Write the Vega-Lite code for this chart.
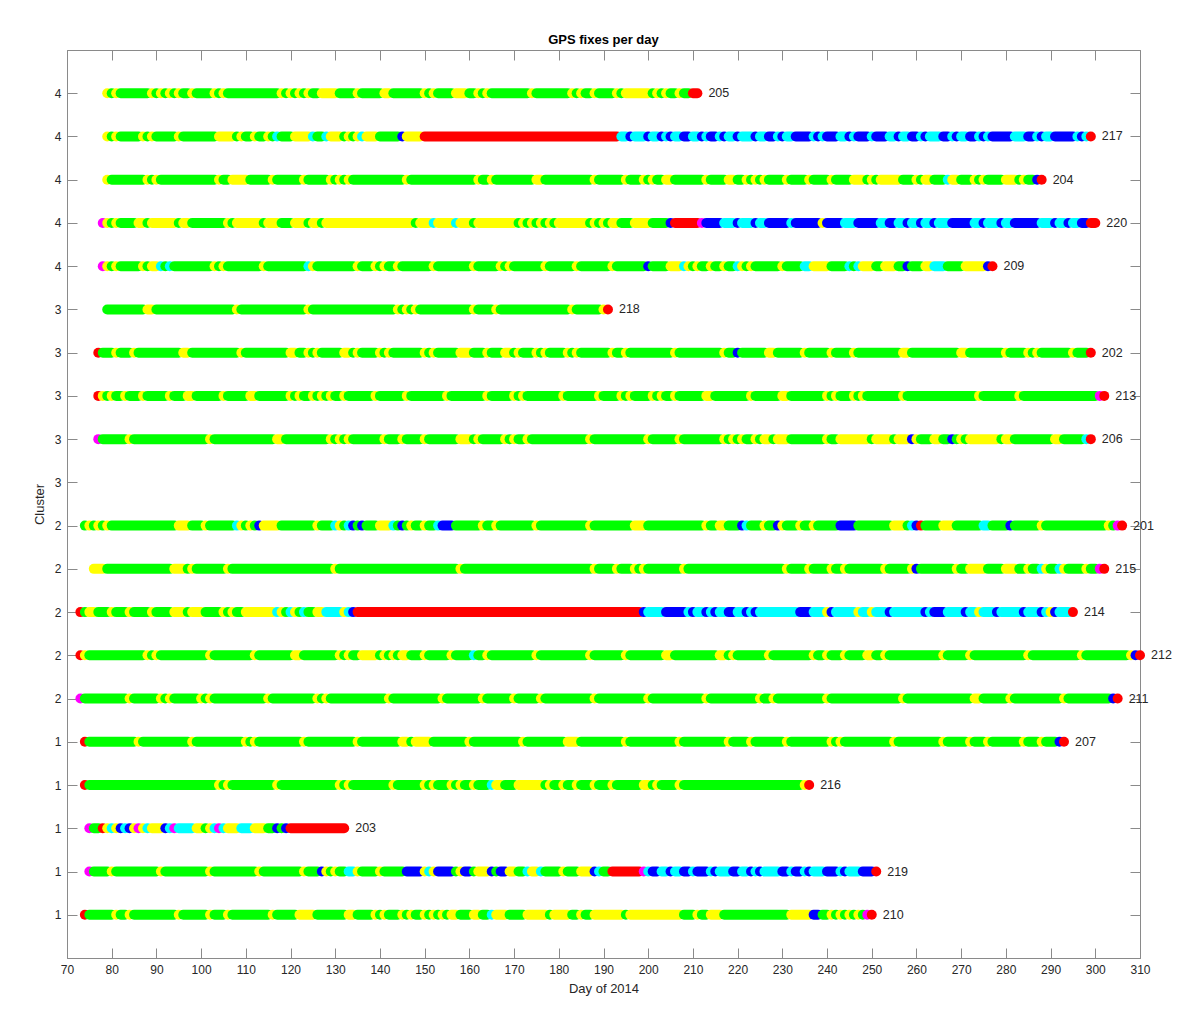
{"$schema":"https://vega.github.io/schema/vega-lite/v6.json","width":1073,"height":908,"autosize":"none","padding":{"left":67,"top":50,"right":46,"bottom":57},"background":"white",
"title":{"text":"GPS fixes per day","fontSize":13,"fontWeight":"bold","font":"Liberation Sans","color":"#000000","offset":3},
"config":{"view":{"stroke":"#8a8a8a","strokeWidth":1},"font":"Liberation Sans"},
"datasets":{"runs":[
{"r":20,"s":79,"e":79,"c":"Y"},{"r":20,"s":80,"e":80,"c":"G"},{"r":20,"s":81,"e":81,"c":"Y"},{"r":20,"s":82,"e":88,"c":"G"},{"r":20,"s":89,"e":89,"c":"Y"},{"r":20,"s":90,"e":90,"c":"G"},{"r":20,"s":91,"e":91,"c":"Y"},{"r":20,"s":92,"e":92,"c":"G"},{"r":20,"s":93,"e":93,"c":"Y"},{"r":20,"s":94,"e":94,"c":"G"},{"r":20,"s":95,"e":95,"c":"Y"},{"r":20,"s":96,"e":97,"c":"G"},{"r":20,"s":98,"e":98,"c":"Y"},{"r":20,"s":99,"e":102,"c":"G"},{"r":20,"s":103,"e":103,"c":"Y"},{"r":20,"s":104,"e":104,"c":"G"},{"r":20,"s":105,"e":105,"c":"Y"},{"r":20,"s":106,"e":117,"c":"G"},{"r":20,"s":118,"e":118,"c":"Y"},{"r":20,"s":119,"e":119,"c":"G"},{"r":20,"s":120,"e":120,"c":"Y"},{"r":20,"s":121,"e":121,"c":"G"},{"r":20,"s":122,"e":122,"c":"Y"},{"r":20,"s":123,"e":123,"c":"G"},{"r":20,"s":124,"e":124,"c":"Y"},{"r":20,"s":125,"e":126,"c":"G"},{"r":20,"s":127,"e":130,"c":"Y"},{"r":20,"s":131,"e":134,"c":"G"},{"r":20,"s":135,"e":135,"c":"Y"},{"r":20,"s":136,"e":140,"c":"G"},{"r":20,"s":141,"e":142,"c":"Y"},{"r":20,"s":143,"e":149,"c":"G"},{"r":20,"s":150,"e":150,"c":"Y"},{"r":20,"s":151,"e":151,"c":"G"},{"r":20,"s":152,"e":152,"c":"Y"},{"r":20,"s":153,"e":156,"c":"G"},{"r":20,"s":157,"e":159,"c":"Y"},{"r":20,"s":160,"e":161,"c":"G"},{"r":20,"s":162,"e":162,"c":"Y"},{"r":20,"s":163,"e":163,"c":"G"},{"r":20,"s":164,"e":164,"c":"Y"},{"r":20,"s":165,"e":173,"c":"G"},{"r":20,"s":174,"e":174,"c":"Y"},{"r":20,"s":175,"e":182,"c":"G"},{"r":20,"s":183,"e":183,"c":"Y"},{"r":20,"s":184,"e":184,"c":"G"},{"r":20,"s":185,"e":185,"c":"Y"},{"r":20,"s":186,"e":187,"c":"G"},{"r":20,"s":188,"e":188,"c":"Y"},{"r":20,"s":189,"e":192,"c":"G"},{"r":20,"s":193,"e":193,"c":"Y"},{"r":20,"s":194,"e":194,"c":"G"},{"r":20,"s":195,"e":200,"c":"Y"},{"r":20,"s":201,"e":201,"c":"G"},{"r":20,"s":202,"e":202,"c":"Y"},{"r":20,"s":203,"e":203,"c":"G"},{"r":20,"s":204,"e":204,"c":"Y"},{"r":20,"s":205,"e":206,"c":"G"},{"r":20,"s":207,"e":207,"c":"Y"},{"r":20,"s":208,"e":209,"c":"G"},{"r":20,"s":210,"e":211,"c":"R"},
{"r":19,"s":79,"e":79,"c":"Y"},{"r":19,"s":80,"e":80,"c":"G"},{"r":19,"s":81,"e":81,"c":"Y"},{"r":19,"s":82,"e":86,"c":"G"},{"r":19,"s":87,"e":87,"c":"Y"},{"r":19,"s":88,"e":88,"c":"G"},{"r":19,"s":89,"e":89,"c":"Y"},{"r":19,"s":90,"e":94,"c":"G"},{"r":19,"s":95,"e":95,"c":"Y"},{"r":19,"s":96,"e":103,"c":"G"},{"r":19,"s":104,"e":107,"c":"Y"},{"r":19,"s":108,"e":108,"c":"G"},{"r":19,"s":109,"e":109,"c":"Y"},{"r":19,"s":110,"e":111,"c":"G"},{"r":19,"s":112,"e":112,"c":"Y"},{"r":19,"s":113,"e":114,"c":"G"},{"r":19,"s":115,"e":115,"c":"Y"},{"r":19,"s":116,"e":116,"c":"G"},{"r":19,"s":117,"e":117,"c":"C"},{"r":19,"s":118,"e":120,"c":"G"},{"r":19,"s":121,"e":124,"c":"Y"},{"r":19,"s":125,"e":125,"c":"C"},{"r":19,"s":126,"e":127,"c":"G"},{"r":19,"s":128,"e":128,"c":"C"},{"r":19,"s":129,"e":131,"c":"Y"},{"r":19,"s":132,"e":132,"c":"G"},{"r":19,"s":133,"e":133,"c":"Y"},{"r":19,"s":134,"e":134,"c":"G"},{"r":19,"s":135,"e":135,"c":"Y"},{"r":19,"s":136,"e":136,"c":"C"},{"r":19,"s":137,"e":139,"c":"Y"},{"r":19,"s":140,"e":144,"c":"G"},{"r":19,"s":145,"e":145,"c":"B"},{"r":19,"s":146,"e":149,"c":"Y"},{"r":19,"s":150,"e":193,"c":"R"},{"r":19,"s":194,"e":195,"c":"C"},{"r":19,"s":196,"e":196,"c":"B"},{"r":19,"s":197,"e":199,"c":"C"},{"r":19,"s":200,"e":200,"c":"B"},{"r":19,"s":201,"e":202,"c":"C"},{"r":19,"s":203,"e":203,"c":"B"},{"r":19,"s":204,"e":204,"c":"C"},{"r":19,"s":205,"e":205,"c":"B"},{"r":19,"s":206,"e":207,"c":"C"},{"r":19,"s":208,"e":209,"c":"B"},{"r":19,"s":210,"e":211,"c":"C"},{"r":19,"s":212,"e":212,"c":"B"},{"r":19,"s":213,"e":213,"c":"C"},{"r":19,"s":214,"e":215,"c":"B"},{"r":19,"s":216,"e":216,"c":"C"},{"r":19,"s":217,"e":217,"c":"B"},{"r":19,"s":218,"e":219,"c":"C"},{"r":19,"s":220,"e":220,"c":"B"},{"r":19,"s":221,"e":223,"c":"C"},{"r":19,"s":224,"e":224,"c":"B"},{"r":19,"s":225,"e":226,"c":"C"},{"r":19,"s":227,"e":228,"c":"B"},{"r":19,"s":229,"e":229,"c":"C"},{"r":19,"s":230,"e":230,"c":"B"},{"r":19,"s":231,"e":232,"c":"C"},{"r":19,"s":233,"e":236,"c":"B"},{"r":19,"s":237,"e":237,"c":"C"},{"r":19,"s":238,"e":238,"c":"B"},{"r":19,"s":239,"e":239,"c":"C"},{"r":19,"s":240,"e":242,"c":"B"},{"r":19,"s":243,"e":244,"c":"C"},{"r":19,"s":245,"e":245,"c":"B"},{"r":19,"s":246,"e":246,"c":"C"},{"r":19,"s":247,"e":249,"c":"B"},{"r":19,"s":250,"e":250,"c":"C"},{"r":19,"s":251,"e":253,"c":"B"},{"r":19,"s":254,"e":255,"c":"C"},{"r":19,"s":256,"e":256,"c":"B"},{"r":19,"s":257,"e":258,"c":"C"},{"r":19,"s":259,"e":260,"c":"B"},{"r":19,"s":261,"e":261,"c":"C"},{"r":19,"s":262,"e":262,"c":"B"},{"r":19,"s":263,"e":265,"c":"C"},{"r":19,"s":266,"e":267,"c":"B"},{"r":19,"s":268,"e":268,"c":"C"},{"r":19,"s":269,"e":269,"c":"B"},{"r":19,"s":270,"e":271,"c":"C"},{"r":19,"s":272,"e":273,"c":"B"},{"r":19,"s":274,"e":274,"c":"C"},{"r":19,"s":275,"e":275,"c":"B"},{"r":19,"s":276,"e":276,"c":"C"},{"r":19,"s":277,"e":281,"c":"B"},{"r":19,"s":282,"e":284,"c":"C"},{"r":19,"s":285,"e":286,"c":"B"},{"r":19,"s":287,"e":287,"c":"C"},{"r":19,"s":288,"e":288,"c":"B"},{"r":19,"s":289,"e":290,"c":"C"},{"r":19,"s":291,"e":295,"c":"B"},{"r":19,"s":296,"e":296,"c":"C"},{"r":19,"s":297,"e":297,"c":"B"},{"r":19,"s":298,"e":298,"c":"C"},{"r":19,"s":299,"e":299,"c":"R"},
{"r":18,"s":79,"e":79,"c":"Y"},{"r":18,"s":80,"e":87,"c":"G"},{"r":18,"s":88,"e":88,"c":"Y"},{"r":18,"s":89,"e":89,"c":"G"},{"r":18,"s":90,"e":90,"c":"Y"},{"r":18,"s":91,"e":103,"c":"G"},{"r":18,"s":104,"e":104,"c":"Y"},{"r":18,"s":105,"e":106,"c":"G"},{"r":18,"s":107,"e":110,"c":"Y"},{"r":18,"s":111,"e":115,"c":"G"},{"r":18,"s":116,"e":116,"c":"Y"},{"r":18,"s":117,"e":122,"c":"G"},{"r":18,"s":123,"e":123,"c":"Y"},{"r":18,"s":124,"e":128,"c":"G"},{"r":18,"s":129,"e":129,"c":"Y"},{"r":18,"s":130,"e":130,"c":"G"},{"r":18,"s":131,"e":131,"c":"Y"},{"r":18,"s":132,"e":132,"c":"G"},{"r":18,"s":133,"e":133,"c":"Y"},{"r":18,"s":134,"e":145,"c":"G"},{"r":18,"s":146,"e":146,"c":"Y"},{"r":18,"s":147,"e":161,"c":"G"},{"r":18,"s":162,"e":162,"c":"Y"},{"r":18,"s":163,"e":164,"c":"G"},{"r":18,"s":165,"e":165,"c":"Y"},{"r":18,"s":166,"e":174,"c":"G"},{"r":18,"s":175,"e":176,"c":"Y"},{"r":18,"s":177,"e":187,"c":"G"},{"r":18,"s":188,"e":188,"c":"Y"},{"r":18,"s":189,"e":194,"c":"G"},{"r":18,"s":195,"e":195,"c":"Y"},{"r":18,"s":196,"e":198,"c":"G"},{"r":18,"s":199,"e":199,"c":"Y"},{"r":18,"s":200,"e":200,"c":"G"},{"r":18,"s":201,"e":201,"c":"Y"},{"r":18,"s":202,"e":203,"c":"G"},{"r":18,"s":204,"e":205,"c":"Y"},{"r":18,"s":206,"e":212,"c":"G"},{"r":18,"s":213,"e":213,"c":"Y"},{"r":18,"s":214,"e":217,"c":"G"},{"r":18,"s":218,"e":219,"c":"Y"},{"r":18,"s":220,"e":221,"c":"G"},{"r":18,"s":222,"e":222,"c":"Y"},{"r":18,"s":223,"e":223,"c":"G"},{"r":18,"s":224,"e":224,"c":"Y"},{"r":18,"s":225,"e":225,"c":"G"},{"r":18,"s":226,"e":226,"c":"Y"},{"r":18,"s":227,"e":230,"c":"G"},{"r":18,"s":231,"e":231,"c":"Y"},{"r":18,"s":232,"e":235,"c":"G"},{"r":18,"s":236,"e":236,"c":"Y"},{"r":18,"s":237,"e":240,"c":"G"},{"r":18,"s":241,"e":241,"c":"Y"},{"r":18,"s":242,"e":245,"c":"G"},{"r":18,"s":246,"e":248,"c":"Y"},{"r":18,"s":249,"e":249,"c":"G"},{"r":18,"s":250,"e":250,"c":"Y"},{"r":18,"s":251,"e":251,"c":"G"},{"r":18,"s":252,"e":256,"c":"Y"},{"r":18,"s":257,"e":259,"c":"G"},{"r":18,"s":260,"e":260,"c":"Y"},{"r":18,"s":261,"e":261,"c":"G"},{"r":18,"s":262,"e":263,"c":"Y"},{"r":18,"s":264,"e":266,"c":"G"},{"r":18,"s":267,"e":267,"c":"C"},{"r":18,"s":268,"e":269,"c":"Y"},{"r":18,"s":270,"e":272,"c":"G"},{"r":18,"s":273,"e":273,"c":"Y"},{"r":18,"s":274,"e":274,"c":"G"},{"r":18,"s":275,"e":275,"c":"Y"},{"r":18,"s":276,"e":279,"c":"G"},{"r":18,"s":280,"e":282,"c":"Y"},{"r":18,"s":283,"e":283,"c":"G"},{"r":18,"s":284,"e":284,"c":"Y"},{"r":18,"s":285,"e":286,"c":"G"},{"r":18,"s":287,"e":287,"c":"B"},{"r":18,"s":288,"e":288,"c":"R"},
{"r":17,"s":78,"e":78,"c":"M"},{"r":17,"s":79,"e":79,"c":"Y"},{"r":17,"s":80,"e":80,"c":"G"},{"r":17,"s":81,"e":81,"c":"Y"},{"r":17,"s":82,"e":85,"c":"G"},{"r":17,"s":86,"e":87,"c":"Y"},{"r":17,"s":88,"e":88,"c":"G"},{"r":17,"s":89,"e":94,"c":"Y"},{"r":17,"s":95,"e":95,"c":"G"},{"r":17,"s":96,"e":97,"c":"Y"},{"r":17,"s":98,"e":105,"c":"G"},{"r":17,"s":106,"e":106,"c":"Y"},{"r":17,"s":107,"e":107,"c":"G"},{"r":17,"s":108,"e":113,"c":"Y"},{"r":17,"s":114,"e":114,"c":"G"},{"r":17,"s":115,"e":117,"c":"Y"},{"r":17,"s":118,"e":120,"c":"G"},{"r":17,"s":121,"e":123,"c":"Y"},{"r":17,"s":124,"e":124,"c":"G"},{"r":17,"s":125,"e":126,"c":"Y"},{"r":17,"s":127,"e":127,"c":"G"},{"r":17,"s":128,"e":147,"c":"Y"},{"r":17,"s":148,"e":148,"c":"G"},{"r":17,"s":149,"e":151,"c":"Y"},{"r":17,"s":152,"e":152,"c":"C"},{"r":17,"s":153,"e":156,"c":"Y"},{"r":17,"s":157,"e":157,"c":"C"},{"r":17,"s":158,"e":160,"c":"Y"},{"r":17,"s":161,"e":161,"c":"G"},{"r":17,"s":162,"e":170,"c":"Y"},{"r":17,"s":171,"e":171,"c":"G"},{"r":17,"s":172,"e":172,"c":"Y"},{"r":17,"s":173,"e":173,"c":"G"},{"r":17,"s":174,"e":174,"c":"Y"},{"r":17,"s":175,"e":175,"c":"G"},{"r":17,"s":176,"e":176,"c":"Y"},{"r":17,"s":177,"e":177,"c":"G"},{"r":17,"s":178,"e":178,"c":"Y"},{"r":17,"s":179,"e":179,"c":"G"},{"r":17,"s":180,"e":186,"c":"Y"},{"r":17,"s":187,"e":187,"c":"G"},{"r":17,"s":188,"e":188,"c":"Y"},{"r":17,"s":189,"e":189,"c":"G"},{"r":17,"s":190,"e":190,"c":"Y"},{"r":17,"s":191,"e":191,"c":"G"},{"r":17,"s":192,"e":193,"c":"Y"},{"r":17,"s":194,"e":196,"c":"G"},{"r":17,"s":197,"e":200,"c":"Y"},{"r":17,"s":201,"e":204,"c":"G"},{"r":17,"s":205,"e":205,"c":"B"},{"r":17,"s":206,"e":211,"c":"R"},{"r":17,"s":212,"e":212,"c":"M"},{"r":17,"s":213,"e":216,"c":"B"},{"r":17,"s":217,"e":219,"c":"C"},{"r":17,"s":220,"e":220,"c":"B"},{"r":17,"s":221,"e":223,"c":"C"},{"r":17,"s":224,"e":224,"c":"B"},{"r":17,"s":225,"e":226,"c":"C"},{"r":17,"s":227,"e":231,"c":"B"},{"r":17,"s":232,"e":232,"c":"C"},{"r":17,"s":233,"e":238,"c":"B"},{"r":17,"s":239,"e":239,"c":"Y"},{"r":17,"s":240,"e":243,"c":"B"},{"r":17,"s":244,"e":246,"c":"C"},{"r":17,"s":247,"e":251,"c":"B"},{"r":17,"s":252,"e":253,"c":"C"},{"r":17,"s":254,"e":255,"c":"B"},{"r":17,"s":256,"e":257,"c":"C"},{"r":17,"s":258,"e":258,"c":"B"},{"r":17,"s":259,"e":260,"c":"C"},{"r":17,"s":261,"e":261,"c":"B"},{"r":17,"s":262,"e":263,"c":"C"},{"r":17,"s":264,"e":264,"c":"B"},{"r":17,"s":265,"e":267,"c":"C"},{"r":17,"s":268,"e":272,"c":"B"},{"r":17,"s":273,"e":274,"c":"C"},{"r":17,"s":275,"e":275,"c":"B"},{"r":17,"s":276,"e":278,"c":"C"},{"r":17,"s":279,"e":279,"c":"B"},{"r":17,"s":280,"e":281,"c":"C"},{"r":17,"s":282,"e":287,"c":"B"},{"r":17,"s":288,"e":290,"c":"C"},{"r":17,"s":291,"e":291,"c":"B"},{"r":17,"s":292,"e":293,"c":"C"},{"r":17,"s":294,"e":294,"c":"B"},{"r":17,"s":295,"e":296,"c":"C"},{"r":17,"s":297,"e":298,"c":"B"},{"r":17,"s":299,"e":300,"c":"R"},
{"r":16,"s":78,"e":78,"c":"M"},{"r":16,"s":79,"e":79,"c":"Y"},{"r":16,"s":80,"e":80,"c":"G"},{"r":16,"s":81,"e":81,"c":"Y"},{"r":16,"s":82,"e":86,"c":"G"},{"r":16,"s":87,"e":87,"c":"Y"},{"r":16,"s":88,"e":88,"c":"G"},{"r":16,"s":89,"e":90,"c":"Y"},{"r":16,"s":91,"e":91,"c":"C"},{"r":16,"s":92,"e":92,"c":"G"},{"r":16,"s":93,"e":93,"c":"C"},{"r":16,"s":94,"e":102,"c":"G"},{"r":16,"s":103,"e":103,"c":"Y"},{"r":16,"s":104,"e":104,"c":"G"},{"r":16,"s":105,"e":105,"c":"Y"},{"r":16,"s":106,"e":113,"c":"G"},{"r":16,"s":114,"e":114,"c":"Y"},{"r":16,"s":115,"e":123,"c":"G"},{"r":16,"s":124,"e":124,"c":"C"},{"r":16,"s":125,"e":125,"c":"Y"},{"r":16,"s":126,"e":134,"c":"G"},{"r":16,"s":135,"e":135,"c":"Y"},{"r":16,"s":136,"e":138,"c":"G"},{"r":16,"s":139,"e":139,"c":"Y"},{"r":16,"s":140,"e":140,"c":"G"},{"r":16,"s":141,"e":141,"c":"Y"},{"r":16,"s":142,"e":143,"c":"G"},{"r":16,"s":144,"e":144,"c":"Y"},{"r":16,"s":145,"e":151,"c":"G"},{"r":16,"s":152,"e":152,"c":"Y"},{"r":16,"s":153,"e":160,"c":"G"},{"r":16,"s":161,"e":161,"c":"Y"},{"r":16,"s":162,"e":166,"c":"G"},{"r":16,"s":167,"e":167,"c":"Y"},{"r":16,"s":168,"e":168,"c":"G"},{"r":16,"s":169,"e":169,"c":"Y"},{"r":16,"s":170,"e":176,"c":"G"},{"r":16,"s":177,"e":177,"c":"Y"},{"r":16,"s":178,"e":183,"c":"G"},{"r":16,"s":184,"e":184,"c":"Y"},{"r":16,"s":185,"e":191,"c":"G"},{"r":16,"s":192,"e":192,"c":"Y"},{"r":16,"s":193,"e":199,"c":"G"},{"r":16,"s":200,"e":200,"c":"B"},{"r":16,"s":201,"e":204,"c":"G"},{"r":16,"s":205,"e":207,"c":"Y"},{"r":16,"s":208,"e":208,"c":"C"},{"r":16,"s":209,"e":209,"c":"Y"},{"r":16,"s":210,"e":210,"c":"G"},{"r":16,"s":211,"e":211,"c":"Y"},{"r":16,"s":212,"e":213,"c":"G"},{"r":16,"s":214,"e":214,"c":"Y"},{"r":16,"s":215,"e":216,"c":"G"},{"r":16,"s":217,"e":217,"c":"Y"},{"r":16,"s":218,"e":219,"c":"G"},{"r":16,"s":220,"e":220,"c":"C"},{"r":16,"s":221,"e":221,"c":"Y"},{"r":16,"s":222,"e":222,"c":"G"},{"r":16,"s":223,"e":223,"c":"Y"},{"r":16,"s":224,"e":229,"c":"G"},{"r":16,"s":230,"e":230,"c":"Y"},{"r":16,"s":231,"e":234,"c":"G"},{"r":16,"s":235,"e":236,"c":"C"},{"r":16,"s":237,"e":240,"c":"Y"},{"r":16,"s":241,"e":244,"c":"G"},{"r":16,"s":245,"e":245,"c":"C"},{"r":16,"s":246,"e":246,"c":"G"},{"r":16,"s":247,"e":247,"c":"C"},{"r":16,"s":248,"e":250,"c":"Y"},{"r":16,"s":251,"e":252,"c":"G"},{"r":16,"s":253,"e":255,"c":"Y"},{"r":16,"s":256,"e":257,"c":"G"},{"r":16,"s":258,"e":258,"c":"B"},{"r":16,"s":259,"e":261,"c":"G"},{"r":16,"s":262,"e":263,"c":"Y"},{"r":16,"s":264,"e":266,"c":"C"},{"r":16,"s":267,"e":270,"c":"G"},{"r":16,"s":271,"e":275,"c":"Y"},{"r":16,"s":276,"e":276,"c":"B"},{"r":16,"s":277,"e":277,"c":"R"},
{"r":15,"s":79,"e":87,"c":"G"},{"r":15,"s":88,"e":89,"c":"Y"},{"r":15,"s":90,"e":107,"c":"G"},{"r":15,"s":108,"e":108,"c":"Y"},{"r":15,"s":109,"e":123,"c":"G"},{"r":15,"s":124,"e":124,"c":"Y"},{"r":15,"s":125,"e":143,"c":"G"},{"r":15,"s":144,"e":144,"c":"Y"},{"r":15,"s":145,"e":145,"c":"G"},{"r":15,"s":146,"e":146,"c":"Y"},{"r":15,"s":147,"e":147,"c":"G"},{"r":15,"s":148,"e":148,"c":"Y"},{"r":15,"s":149,"e":160,"c":"G"},{"r":15,"s":161,"e":161,"c":"Y"},{"r":15,"s":162,"e":165,"c":"G"},{"r":15,"s":166,"e":166,"c":"Y"},{"r":15,"s":167,"e":182,"c":"G"},{"r":15,"s":183,"e":183,"c":"Y"},{"r":15,"s":184,"e":189,"c":"G"},{"r":15,"s":190,"e":190,"c":"Y"},{"r":15,"s":191,"e":191,"c":"R"},
{"r":14,"s":77,"e":77,"c":"R"},{"r":14,"s":78,"e":80,"c":"G"},{"r":14,"s":81,"e":81,"c":"Y"},{"r":14,"s":82,"e":84,"c":"G"},{"r":14,"s":85,"e":85,"c":"Y"},{"r":14,"s":86,"e":95,"c":"G"},{"r":14,"s":96,"e":97,"c":"Y"},{"r":14,"s":98,"e":108,"c":"G"},{"r":14,"s":109,"e":109,"c":"Y"},{"r":14,"s":110,"e":119,"c":"G"},{"r":14,"s":120,"e":121,"c":"Y"},{"r":14,"s":122,"e":123,"c":"G"},{"r":14,"s":124,"e":124,"c":"Y"},{"r":14,"s":125,"e":125,"c":"G"},{"r":14,"s":126,"e":126,"c":"Y"},{"r":14,"s":127,"e":131,"c":"G"},{"r":14,"s":132,"e":133,"c":"Y"},{"r":14,"s":134,"e":134,"c":"G"},{"r":14,"s":135,"e":135,"c":"Y"},{"r":14,"s":136,"e":139,"c":"G"},{"r":14,"s":140,"e":140,"c":"Y"},{"r":14,"s":141,"e":141,"c":"G"},{"r":14,"s":142,"e":142,"c":"Y"},{"r":14,"s":143,"e":149,"c":"G"},{"r":14,"s":150,"e":150,"c":"Y"},{"r":14,"s":151,"e":151,"c":"G"},{"r":14,"s":152,"e":152,"c":"Y"},{"r":14,"s":153,"e":157,"c":"G"},{"r":14,"s":158,"e":160,"c":"Y"},{"r":14,"s":161,"e":163,"c":"G"},{"r":14,"s":164,"e":164,"c":"Y"},{"r":14,"s":165,"e":167,"c":"G"},{"r":14,"s":168,"e":169,"c":"Y"},{"r":14,"s":170,"e":170,"c":"G"},{"r":14,"s":171,"e":171,"c":"Y"},{"r":14,"s":172,"e":174,"c":"G"},{"r":14,"s":175,"e":175,"c":"Y"},{"r":14,"s":176,"e":176,"c":"G"},{"r":14,"s":177,"e":177,"c":"Y"},{"r":14,"s":178,"e":181,"c":"G"},{"r":14,"s":182,"e":182,"c":"Y"},{"r":14,"s":183,"e":183,"c":"G"},{"r":14,"s":184,"e":184,"c":"Y"},{"r":14,"s":185,"e":191,"c":"G"},{"r":14,"s":192,"e":192,"c":"Y"},{"r":14,"s":193,"e":194,"c":"G"},{"r":14,"s":195,"e":195,"c":"Y"},{"r":14,"s":196,"e":205,"c":"G"},{"r":14,"s":206,"e":206,"c":"Y"},{"r":14,"s":207,"e":216,"c":"G"},{"r":14,"s":217,"e":217,"c":"Y"},{"r":14,"s":218,"e":219,"c":"G"},{"r":14,"s":220,"e":220,"c":"B"},{"r":14,"s":221,"e":226,"c":"G"},{"r":14,"s":227,"e":228,"c":"Y"},{"r":14,"s":229,"e":234,"c":"G"},{"r":14,"s":235,"e":235,"c":"Y"},{"r":14,"s":236,"e":240,"c":"G"},{"r":14,"s":241,"e":241,"c":"Y"},{"r":14,"s":242,"e":245,"c":"G"},{"r":14,"s":246,"e":246,"c":"Y"},{"r":14,"s":247,"e":256,"c":"G"},{"r":14,"s":257,"e":258,"c":"Y"},{"r":14,"s":259,"e":269,"c":"G"},{"r":14,"s":270,"e":271,"c":"Y"},{"r":14,"s":272,"e":279,"c":"G"},{"r":14,"s":280,"e":280,"c":"Y"},{"r":14,"s":281,"e":284,"c":"G"},{"r":14,"s":285,"e":285,"c":"Y"},{"r":14,"s":286,"e":286,"c":"G"},{"r":14,"s":287,"e":287,"c":"Y"},{"r":14,"s":288,"e":294,"c":"G"},{"r":14,"s":295,"e":295,"c":"Y"},{"r":14,"s":296,"e":298,"c":"G"},{"r":14,"s":299,"e":299,"c":"R"},
{"r":13,"s":77,"e":77,"c":"R"},{"r":13,"s":78,"e":78,"c":"Y"},{"r":13,"s":79,"e":79,"c":"G"},{"r":13,"s":80,"e":80,"c":"Y"},{"r":13,"s":81,"e":82,"c":"G"},{"r":13,"s":83,"e":83,"c":"Y"},{"r":13,"s":84,"e":86,"c":"G"},{"r":13,"s":87,"e":87,"c":"Y"},{"r":13,"s":88,"e":92,"c":"G"},{"r":13,"s":93,"e":93,"c":"Y"},{"r":13,"s":94,"e":96,"c":"G"},{"r":13,"s":97,"e":98,"c":"Y"},{"r":13,"s":99,"e":104,"c":"G"},{"r":13,"s":105,"e":105,"c":"Y"},{"r":13,"s":106,"e":110,"c":"G"},{"r":13,"s":111,"e":112,"c":"Y"},{"r":13,"s":113,"e":119,"c":"G"},{"r":13,"s":120,"e":120,"c":"Y"},{"r":13,"s":121,"e":121,"c":"G"},{"r":13,"s":122,"e":122,"c":"Y"},{"r":13,"s":123,"e":124,"c":"G"},{"r":13,"s":125,"e":125,"c":"Y"},{"r":13,"s":126,"e":126,"c":"G"},{"r":13,"s":127,"e":127,"c":"Y"},{"r":13,"s":128,"e":128,"c":"G"},{"r":13,"s":129,"e":129,"c":"Y"},{"r":13,"s":130,"e":131,"c":"G"},{"r":13,"s":132,"e":132,"c":"Y"},{"r":13,"s":133,"e":138,"c":"G"},{"r":13,"s":139,"e":139,"c":"Y"},{"r":13,"s":140,"e":145,"c":"G"},{"r":13,"s":146,"e":146,"c":"Y"},{"r":13,"s":147,"e":154,"c":"G"},{"r":13,"s":155,"e":155,"c":"Y"},{"r":13,"s":156,"e":163,"c":"G"},{"r":13,"s":164,"e":164,"c":"Y"},{"r":13,"s":165,"e":169,"c":"G"},{"r":13,"s":170,"e":170,"c":"Y"},{"r":13,"s":171,"e":171,"c":"G"},{"r":13,"s":172,"e":172,"c":"Y"},{"r":13,"s":173,"e":180,"c":"G"},{"r":13,"s":181,"e":181,"c":"Y"},{"r":13,"s":182,"e":188,"c":"G"},{"r":13,"s":189,"e":189,"c":"Y"},{"r":13,"s":190,"e":193,"c":"G"},{"r":13,"s":194,"e":194,"c":"Y"},{"r":13,"s":195,"e":195,"c":"G"},{"r":13,"s":196,"e":196,"c":"Y"},{"r":13,"s":197,"e":200,"c":"G"},{"r":13,"s":201,"e":201,"c":"Y"},{"r":13,"s":202,"e":202,"c":"G"},{"r":13,"s":203,"e":203,"c":"Y"},{"r":13,"s":204,"e":205,"c":"G"},{"r":13,"s":206,"e":206,"c":"Y"},{"r":13,"s":207,"e":212,"c":"G"},{"r":13,"s":213,"e":214,"c":"Y"},{"r":13,"s":215,"e":222,"c":"G"},{"r":13,"s":223,"e":223,"c":"Y"},{"r":13,"s":224,"e":229,"c":"G"},{"r":13,"s":230,"e":231,"c":"Y"},{"r":13,"s":232,"e":239,"c":"G"},{"r":13,"s":240,"e":240,"c":"Y"},{"r":13,"s":241,"e":241,"c":"G"},{"r":13,"s":242,"e":242,"c":"Y"},{"r":13,"s":243,"e":245,"c":"G"},{"r":13,"s":246,"e":246,"c":"Y"},{"r":13,"s":247,"e":247,"c":"G"},{"r":13,"s":248,"e":248,"c":"Y"},{"r":13,"s":249,"e":256,"c":"G"},{"r":13,"s":257,"e":257,"c":"Y"},{"r":13,"s":258,"e":273,"c":"G"},{"r":13,"s":274,"e":274,"c":"Y"},{"r":13,"s":275,"e":282,"c":"G"},{"r":13,"s":283,"e":283,"c":"Y"},{"r":13,"s":284,"e":300,"c":"G"},{"r":13,"s":301,"e":301,"c":"M"},{"r":13,"s":302,"e":302,"c":"R"},
{"r":12,"s":77,"e":77,"c":"M"},{"r":12,"s":78,"e":83,"c":"G"},{"r":12,"s":84,"e":84,"c":"Y"},{"r":12,"s":85,"e":101,"c":"G"},{"r":12,"s":102,"e":102,"c":"Y"},{"r":12,"s":103,"e":116,"c":"G"},{"r":12,"s":117,"e":118,"c":"Y"},{"r":12,"s":119,"e":128,"c":"G"},{"r":12,"s":129,"e":129,"c":"Y"},{"r":12,"s":130,"e":130,"c":"G"},{"r":12,"s":131,"e":131,"c":"Y"},{"r":12,"s":132,"e":132,"c":"G"},{"r":12,"s":133,"e":133,"c":"Y"},{"r":12,"s":134,"e":140,"c":"G"},{"r":12,"s":141,"e":141,"c":"Y"},{"r":12,"s":142,"e":144,"c":"G"},{"r":12,"s":145,"e":145,"c":"Y"},{"r":12,"s":146,"e":149,"c":"G"},{"r":12,"s":150,"e":150,"c":"Y"},{"r":12,"s":151,"e":157,"c":"G"},{"r":12,"s":158,"e":160,"c":"Y"},{"r":12,"s":161,"e":161,"c":"G"},{"r":12,"s":162,"e":162,"c":"Y"},{"r":12,"s":163,"e":167,"c":"G"},{"r":12,"s":168,"e":168,"c":"Y"},{"r":12,"s":169,"e":169,"c":"G"},{"r":12,"s":170,"e":170,"c":"Y"},{"r":12,"s":171,"e":172,"c":"G"},{"r":12,"s":173,"e":173,"c":"Y"},{"r":12,"s":174,"e":186,"c":"G"},{"r":12,"s":187,"e":187,"c":"Y"},{"r":12,"s":188,"e":199,"c":"G"},{"r":12,"s":200,"e":200,"c":"Y"},{"r":12,"s":201,"e":206,"c":"G"},{"r":12,"s":207,"e":207,"c":"Y"},{"r":12,"s":208,"e":216,"c":"G"},{"r":12,"s":217,"e":217,"c":"Y"},{"r":12,"s":218,"e":218,"c":"G"},{"r":12,"s":219,"e":219,"c":"Y"},{"r":12,"s":220,"e":220,"c":"G"},{"r":12,"s":221,"e":221,"c":"Y"},{"r":12,"s":222,"e":223,"c":"G"},{"r":12,"s":224,"e":224,"c":"Y"},{"r":12,"s":225,"e":225,"c":"G"},{"r":12,"s":226,"e":227,"c":"Y"},{"r":12,"s":228,"e":228,"c":"G"},{"r":12,"s":229,"e":231,"c":"Y"},{"r":12,"s":232,"e":239,"c":"G"},{"r":12,"s":240,"e":240,"c":"Y"},{"r":12,"s":241,"e":242,"c":"G"},{"r":12,"s":243,"e":249,"c":"Y"},{"r":12,"s":250,"e":250,"c":"G"},{"r":12,"s":251,"e":254,"c":"Y"},{"r":12,"s":255,"e":255,"c":"G"},{"r":12,"s":256,"e":258,"c":"Y"},{"r":12,"s":259,"e":259,"c":"B"},{"r":12,"s":260,"e":260,"c":"Y"},{"r":12,"s":261,"e":263,"c":"G"},{"r":12,"s":264,"e":265,"c":"Y"},{"r":12,"s":266,"e":267,"c":"G"},{"r":12,"s":268,"e":268,"c":"B"},{"r":12,"s":269,"e":269,"c":"G"},{"r":12,"s":270,"e":270,"c":"Y"},{"r":12,"s":271,"e":271,"c":"G"},{"r":12,"s":272,"e":278,"c":"Y"},{"r":12,"s":279,"e":279,"c":"G"},{"r":12,"s":280,"e":281,"c":"Y"},{"r":12,"s":282,"e":290,"c":"G"},{"r":12,"s":291,"e":292,"c":"Y"},{"r":12,"s":293,"e":297,"c":"G"},{"r":12,"s":298,"e":298,"c":"C"},{"r":12,"s":299,"e":299,"c":"R"},
{"r":10,"s":74,"e":74,"c":"G"},{"r":10,"s":75,"e":75,"c":"Y"},{"r":10,"s":76,"e":76,"c":"G"},{"r":10,"s":77,"e":77,"c":"Y"},{"r":10,"s":78,"e":78,"c":"G"},{"r":10,"s":79,"e":79,"c":"Y"},{"r":10,"s":80,"e":94,"c":"G"},{"r":10,"s":95,"e":97,"c":"Y"},{"r":10,"s":98,"e":100,"c":"G"},{"r":10,"s":101,"e":101,"c":"Y"},{"r":10,"s":102,"e":107,"c":"G"},{"r":10,"s":108,"e":108,"c":"C"},{"r":10,"s":109,"e":109,"c":"Y"},{"r":10,"s":110,"e":110,"c":"G"},{"r":10,"s":111,"e":111,"c":"Y"},{"r":10,"s":112,"e":112,"c":"G"},{"r":10,"s":113,"e":113,"c":"B"},{"r":10,"s":114,"e":117,"c":"Y"},{"r":10,"s":118,"e":125,"c":"G"},{"r":10,"s":126,"e":126,"c":"Y"},{"r":10,"s":127,"e":129,"c":"G"},{"r":10,"s":130,"e":130,"c":"C"},{"r":10,"s":131,"e":131,"c":"Y"},{"r":10,"s":132,"e":132,"c":"G"},{"r":10,"s":133,"e":133,"c":"C"},{"r":10,"s":134,"e":134,"c":"B"},{"r":10,"s":135,"e":135,"c":"G"},{"r":10,"s":136,"e":136,"c":"B"},{"r":10,"s":137,"e":139,"c":"G"},{"r":10,"s":140,"e":142,"c":"Y"},{"r":10,"s":143,"e":143,"c":"C"},{"r":10,"s":144,"e":144,"c":"G"},{"r":10,"s":145,"e":145,"c":"B"},{"r":10,"s":146,"e":146,"c":"G"},{"r":10,"s":147,"e":147,"c":"Y"},{"r":10,"s":148,"e":149,"c":"G"},{"r":10,"s":150,"e":150,"c":"Y"},{"r":10,"s":151,"e":152,"c":"G"},{"r":10,"s":153,"e":153,"c":"C"},{"r":10,"s":154,"e":156,"c":"B"},{"r":10,"s":157,"e":162,"c":"G"},{"r":10,"s":163,"e":163,"c":"Y"},{"r":10,"s":164,"e":165,"c":"G"},{"r":10,"s":166,"e":166,"c":"Y"},{"r":10,"s":167,"e":174,"c":"G"},{"r":10,"s":175,"e":175,"c":"Y"},{"r":10,"s":176,"e":186,"c":"G"},{"r":10,"s":187,"e":187,"c":"Y"},{"r":10,"s":188,"e":196,"c":"G"},{"r":10,"s":197,"e":199,"c":"Y"},{"r":10,"s":200,"e":212,"c":"G"},{"r":10,"s":213,"e":213,"c":"Y"},{"r":10,"s":214,"e":215,"c":"G"},{"r":10,"s":216,"e":217,"c":"Y"},{"r":10,"s":218,"e":220,"c":"G"},{"r":10,"s":221,"e":221,"c":"B"},{"r":10,"s":222,"e":222,"c":"C"},{"r":10,"s":223,"e":225,"c":"G"},{"r":10,"s":226,"e":226,"c":"Y"},{"r":10,"s":227,"e":228,"c":"G"},{"r":10,"s":229,"e":229,"c":"B"},{"r":10,"s":230,"e":230,"c":"Y"},{"r":10,"s":231,"e":233,"c":"G"},{"r":10,"s":234,"e":234,"c":"Y"},{"r":10,"s":235,"e":236,"c":"G"},{"r":10,"s":237,"e":237,"c":"Y"},{"r":10,"s":238,"e":242,"c":"G"},{"r":10,"s":243,"e":246,"c":"B"},{"r":10,"s":247,"e":254,"c":"G"},{"r":10,"s":255,"e":257,"c":"Y"},{"r":10,"s":258,"e":258,"c":"G"},{"r":10,"s":259,"e":259,"c":"C"},{"r":10,"s":260,"e":260,"c":"B"},{"r":10,"s":261,"e":261,"c":"R"},{"r":10,"s":262,"e":265,"c":"G"},{"r":10,"s":266,"e":268,"c":"Y"},{"r":10,"s":269,"e":274,"c":"G"},{"r":10,"s":275,"e":276,"c":"C"},{"r":10,"s":277,"e":280,"c":"G"},{"r":10,"s":281,"e":281,"c":"B"},{"r":10,"s":282,"e":287,"c":"G"},{"r":10,"s":288,"e":288,"c":"Y"},{"r":10,"s":289,"e":302,"c":"G"},{"r":10,"s":303,"e":303,"c":"Y"},{"r":10,"s":304,"e":304,"c":"G"},{"r":10,"s":305,"e":305,"c":"M"},{"r":10,"s":306,"e":306,"c":"R"},
{"r":9,"s":76,"e":78,"c":"Y"},{"r":9,"s":79,"e":93,"c":"G"},{"r":9,"s":94,"e":96,"c":"Y"},{"r":9,"s":97,"e":97,"c":"G"},{"r":9,"s":98,"e":98,"c":"Y"},{"r":9,"s":99,"e":105,"c":"G"},{"r":9,"s":106,"e":106,"c":"Y"},{"r":9,"s":107,"e":129,"c":"G"},{"r":9,"s":130,"e":130,"c":"Y"},{"r":9,"s":131,"e":157,"c":"G"},{"r":9,"s":158,"e":158,"c":"Y"},{"r":9,"s":159,"e":187,"c":"G"},{"r":9,"s":188,"e":188,"c":"Y"},{"r":9,"s":189,"e":192,"c":"G"},{"r":9,"s":193,"e":193,"c":"Y"},{"r":9,"s":194,"e":196,"c":"G"},{"r":9,"s":197,"e":197,"c":"Y"},{"r":9,"s":198,"e":198,"c":"G"},{"r":9,"s":199,"e":199,"c":"Y"},{"r":9,"s":200,"e":207,"c":"G"},{"r":9,"s":208,"e":208,"c":"Y"},{"r":9,"s":209,"e":230,"c":"G"},{"r":9,"s":231,"e":231,"c":"Y"},{"r":9,"s":232,"e":235,"c":"G"},{"r":9,"s":236,"e":236,"c":"Y"},{"r":9,"s":237,"e":240,"c":"G"},{"r":9,"s":241,"e":241,"c":"Y"},{"r":9,"s":242,"e":243,"c":"G"},{"r":9,"s":244,"e":244,"c":"Y"},{"r":9,"s":245,"e":252,"c":"G"},{"r":9,"s":253,"e":253,"c":"Y"},{"r":9,"s":254,"e":258,"c":"G"},{"r":9,"s":259,"e":259,"c":"Y"},{"r":9,"s":260,"e":260,"c":"B"},{"r":9,"s":261,"e":268,"c":"G"},{"r":9,"s":269,"e":269,"c":"Y"},{"r":9,"s":270,"e":271,"c":"G"},{"r":9,"s":272,"e":275,"c":"Y"},{"r":9,"s":276,"e":279,"c":"G"},{"r":9,"s":280,"e":282,"c":"Y"},{"r":9,"s":283,"e":284,"c":"G"},{"r":9,"s":285,"e":285,"c":"Y"},{"r":9,"s":286,"e":287,"c":"G"},{"r":9,"s":288,"e":288,"c":"C"},{"r":9,"s":289,"e":289,"c":"Y"},{"r":9,"s":290,"e":291,"c":"G"},{"r":9,"s":292,"e":292,"c":"C"},{"r":9,"s":293,"e":293,"c":"Y"},{"r":9,"s":294,"e":297,"c":"G"},{"r":9,"s":298,"e":298,"c":"Y"},{"r":9,"s":299,"e":300,"c":"G"},{"r":9,"s":301,"e":301,"c":"M"},{"r":9,"s":302,"e":302,"c":"R"},
{"r":8,"s":73,"e":73,"c":"R"},{"r":8,"s":74,"e":74,"c":"G"},{"r":8,"s":75,"e":76,"c":"Y"},{"r":8,"s":77,"e":79,"c":"G"},{"r":8,"s":80,"e":80,"c":"Y"},{"r":8,"s":81,"e":83,"c":"G"},{"r":8,"s":84,"e":84,"c":"Y"},{"r":8,"s":85,"e":88,"c":"G"},{"r":8,"s":89,"e":89,"c":"Y"},{"r":8,"s":90,"e":93,"c":"G"},{"r":8,"s":94,"e":96,"c":"Y"},{"r":8,"s":97,"e":97,"c":"G"},{"r":8,"s":98,"e":100,"c":"Y"},{"r":8,"s":101,"e":104,"c":"G"},{"r":8,"s":105,"e":105,"c":"Y"},{"r":8,"s":106,"e":106,"c":"G"},{"r":8,"s":107,"e":107,"c":"Y"},{"r":8,"s":108,"e":109,"c":"G"},{"r":8,"s":110,"e":116,"c":"Y"},{"r":8,"s":117,"e":117,"c":"C"},{"r":8,"s":118,"e":118,"c":"Y"},{"r":8,"s":119,"e":119,"c":"G"},{"r":8,"s":120,"e":120,"c":"C"},{"r":8,"s":121,"e":121,"c":"Y"},{"r":8,"s":122,"e":122,"c":"G"},{"r":8,"s":123,"e":123,"c":"C"},{"r":8,"s":124,"e":125,"c":"G"},{"r":8,"s":126,"e":127,"c":"Y"},{"r":8,"s":128,"e":131,"c":"C"},{"r":8,"s":132,"e":132,"c":"Y"},{"r":8,"s":133,"e":133,"c":"C"},{"r":8,"s":134,"e":134,"c":"B"},{"r":8,"s":135,"e":198,"c":"R"},{"r":8,"s":199,"e":199,"c":"B"},{"r":8,"s":200,"e":203,"c":"C"},{"r":8,"s":204,"e":208,"c":"B"},{"r":8,"s":209,"e":209,"c":"C"},{"r":8,"s":210,"e":210,"c":"B"},{"r":8,"s":211,"e":212,"c":"C"},{"r":8,"s":213,"e":213,"c":"B"},{"r":8,"s":214,"e":214,"c":"C"},{"r":8,"s":215,"e":215,"c":"B"},{"r":8,"s":216,"e":217,"c":"C"},{"r":8,"s":218,"e":219,"c":"B"},{"r":8,"s":220,"e":221,"c":"C"},{"r":8,"s":222,"e":222,"c":"B"},{"r":8,"s":223,"e":223,"c":"C"},{"r":8,"s":224,"e":224,"c":"B"},{"r":8,"s":225,"e":233,"c":"C"},{"r":8,"s":234,"e":236,"c":"B"},{"r":8,"s":237,"e":239,"c":"C"},{"r":8,"s":240,"e":240,"c":"Y"},{"r":8,"s":241,"e":241,"c":"B"},{"r":8,"s":242,"e":246,"c":"C"},{"r":8,"s":247,"e":247,"c":"Y"},{"r":8,"s":248,"e":249,"c":"C"},{"r":8,"s":250,"e":250,"c":"Y"},{"r":8,"s":251,"e":253,"c":"C"},{"r":8,"s":254,"e":254,"c":"B"},{"r":8,"s":255,"e":261,"c":"C"},{"r":8,"s":262,"e":262,"c":"B"},{"r":8,"s":263,"e":263,"c":"C"},{"r":8,"s":264,"e":266,"c":"B"},{"r":8,"s":267,"e":270,"c":"C"},{"r":8,"s":271,"e":271,"c":"B"},{"r":8,"s":272,"e":273,"c":"C"},{"r":8,"s":274,"e":274,"c":"Y"},{"r":8,"s":275,"e":277,"c":"C"},{"r":8,"s":278,"e":278,"c":"B"},{"r":8,"s":279,"e":283,"c":"C"},{"r":8,"s":284,"e":284,"c":"B"},{"r":8,"s":285,"e":287,"c":"C"},{"r":8,"s":288,"e":288,"c":"B"},{"r":8,"s":289,"e":289,"c":"C"},{"r":8,"s":290,"e":290,"c":"Y"},{"r":8,"s":291,"e":291,"c":"B"},{"r":8,"s":292,"e":294,"c":"C"},{"r":8,"s":295,"e":295,"c":"R"},
{"r":7,"s":73,"e":73,"c":"R"},{"r":7,"s":74,"e":74,"c":"Y"},{"r":7,"s":75,"e":87,"c":"G"},{"r":7,"s":88,"e":88,"c":"Y"},{"r":7,"s":89,"e":89,"c":"G"},{"r":7,"s":90,"e":90,"c":"Y"},{"r":7,"s":91,"e":101,"c":"G"},{"r":7,"s":102,"e":102,"c":"Y"},{"r":7,"s":103,"e":111,"c":"G"},{"r":7,"s":112,"e":112,"c":"Y"},{"r":7,"s":113,"e":120,"c":"G"},{"r":7,"s":121,"e":122,"c":"Y"},{"r":7,"s":123,"e":130,"c":"G"},{"r":7,"s":131,"e":131,"c":"Y"},{"r":7,"s":132,"e":132,"c":"G"},{"r":7,"s":133,"e":133,"c":"Y"},{"r":7,"s":134,"e":135,"c":"G"},{"r":7,"s":136,"e":139,"c":"Y"},{"r":7,"s":140,"e":140,"c":"G"},{"r":7,"s":141,"e":141,"c":"Y"},{"r":7,"s":142,"e":142,"c":"G"},{"r":7,"s":143,"e":143,"c":"Y"},{"r":7,"s":144,"e":144,"c":"G"},{"r":7,"s":145,"e":146,"c":"Y"},{"r":7,"s":147,"e":149,"c":"G"},{"r":7,"s":150,"e":150,"c":"Y"},{"r":7,"s":151,"e":155,"c":"G"},{"r":7,"s":156,"e":156,"c":"Y"},{"r":7,"s":157,"e":160,"c":"G"},{"r":7,"s":161,"e":161,"c":"C"},{"r":7,"s":162,"e":163,"c":"G"},{"r":7,"s":164,"e":164,"c":"Y"},{"r":7,"s":165,"e":174,"c":"G"},{"r":7,"s":175,"e":175,"c":"Y"},{"r":7,"s":176,"e":186,"c":"G"},{"r":7,"s":187,"e":187,"c":"Y"},{"r":7,"s":188,"e":194,"c":"G"},{"r":7,"s":195,"e":195,"c":"Y"},{"r":7,"s":196,"e":203,"c":"G"},{"r":7,"s":204,"e":205,"c":"Y"},{"r":7,"s":206,"e":215,"c":"G"},{"r":7,"s":216,"e":217,"c":"Y"},{"r":7,"s":218,"e":218,"c":"G"},{"r":7,"s":219,"e":219,"c":"Y"},{"r":7,"s":220,"e":226,"c":"G"},{"r":7,"s":227,"e":227,"c":"Y"},{"r":7,"s":228,"e":236,"c":"G"},{"r":7,"s":237,"e":237,"c":"Y"},{"r":7,"s":238,"e":239,"c":"G"},{"r":7,"s":240,"e":240,"c":"Y"},{"r":7,"s":241,"e":243,"c":"G"},{"r":7,"s":244,"e":244,"c":"Y"},{"r":7,"s":245,"e":248,"c":"G"},{"r":7,"s":249,"e":250,"c":"Y"},{"r":7,"s":251,"e":252,"c":"G"},{"r":7,"s":253,"e":253,"c":"Y"},{"r":7,"s":254,"e":265,"c":"G"},{"r":7,"s":266,"e":266,"c":"Y"},{"r":7,"s":267,"e":271,"c":"G"},{"r":7,"s":272,"e":272,"c":"Y"},{"r":7,"s":273,"e":284,"c":"G"},{"r":7,"s":285,"e":285,"c":"Y"},{"r":7,"s":286,"e":296,"c":"G"},{"r":7,"s":297,"e":297,"c":"Y"},{"r":7,"s":298,"e":307,"c":"G"},{"r":7,"s":308,"e":308,"c":"Y"},{"r":7,"s":309,"e":309,"c":"B"},{"r":7,"s":310,"e":310,"c":"R"},
{"r":6,"s":73,"e":73,"c":"M"},{"r":6,"s":74,"e":83,"c":"G"},{"r":6,"s":84,"e":84,"c":"Y"},{"r":6,"s":85,"e":90,"c":"G"},{"r":6,"s":91,"e":91,"c":"Y"},{"r":6,"s":92,"e":92,"c":"G"},{"r":6,"s":93,"e":93,"c":"Y"},{"r":6,"s":94,"e":99,"c":"G"},{"r":6,"s":100,"e":100,"c":"Y"},{"r":6,"s":101,"e":101,"c":"G"},{"r":6,"s":102,"e":102,"c":"Y"},{"r":6,"s":103,"e":114,"c":"G"},{"r":6,"s":115,"e":115,"c":"Y"},{"r":6,"s":116,"e":125,"c":"G"},{"r":6,"s":126,"e":126,"c":"Y"},{"r":6,"s":127,"e":127,"c":"G"},{"r":6,"s":128,"e":128,"c":"Y"},{"r":6,"s":129,"e":141,"c":"G"},{"r":6,"s":142,"e":142,"c":"Y"},{"r":6,"s":143,"e":153,"c":"G"},{"r":6,"s":154,"e":154,"c":"Y"},{"r":6,"s":155,"e":162,"c":"G"},{"r":6,"s":163,"e":163,"c":"Y"},{"r":6,"s":164,"e":169,"c":"G"},{"r":6,"s":170,"e":170,"c":"Y"},{"r":6,"s":171,"e":175,"c":"G"},{"r":6,"s":176,"e":176,"c":"Y"},{"r":6,"s":177,"e":187,"c":"G"},{"r":6,"s":188,"e":188,"c":"Y"},{"r":6,"s":189,"e":199,"c":"G"},{"r":6,"s":200,"e":200,"c":"Y"},{"r":6,"s":201,"e":212,"c":"G"},{"r":6,"s":213,"e":213,"c":"Y"},{"r":6,"s":214,"e":224,"c":"G"},{"r":6,"s":225,"e":225,"c":"Y"},{"r":6,"s":226,"e":227,"c":"G"},{"r":6,"s":228,"e":228,"c":"Y"},{"r":6,"s":229,"e":239,"c":"G"},{"r":6,"s":240,"e":240,"c":"Y"},{"r":6,"s":241,"e":256,"c":"G"},{"r":6,"s":257,"e":257,"c":"Y"},{"r":6,"s":258,"e":272,"c":"G"},{"r":6,"s":273,"e":274,"c":"Y"},{"r":6,"s":275,"e":280,"c":"G"},{"r":6,"s":281,"e":281,"c":"Y"},{"r":6,"s":282,"e":292,"c":"G"},{"r":6,"s":293,"e":293,"c":"Y"},{"r":6,"s":294,"e":303,"c":"G"},{"r":6,"s":304,"e":304,"c":"B"},{"r":6,"s":305,"e":305,"c":"R"},
{"r":5,"s":74,"e":74,"c":"R"},{"r":5,"s":75,"e":85,"c":"G"},{"r":5,"s":86,"e":86,"c":"Y"},{"r":5,"s":87,"e":97,"c":"G"},{"r":5,"s":98,"e":98,"c":"Y"},{"r":5,"s":99,"e":109,"c":"G"},{"r":5,"s":110,"e":110,"c":"Y"},{"r":5,"s":111,"e":111,"c":"G"},{"r":5,"s":112,"e":112,"c":"Y"},{"r":5,"s":113,"e":122,"c":"G"},{"r":5,"s":123,"e":123,"c":"Y"},{"r":5,"s":124,"e":134,"c":"G"},{"r":5,"s":135,"e":135,"c":"Y"},{"r":5,"s":136,"e":144,"c":"G"},{"r":5,"s":145,"e":146,"c":"Y"},{"r":5,"s":147,"e":147,"c":"G"},{"r":5,"s":148,"e":151,"c":"Y"},{"r":5,"s":152,"e":159,"c":"G"},{"r":5,"s":160,"e":160,"c":"Y"},{"r":5,"s":161,"e":171,"c":"G"},{"r":5,"s":172,"e":172,"c":"Y"},{"r":5,"s":173,"e":181,"c":"G"},{"r":5,"s":182,"e":184,"c":"Y"},{"r":5,"s":185,"e":194,"c":"G"},{"r":5,"s":195,"e":195,"c":"Y"},{"r":5,"s":196,"e":206,"c":"G"},{"r":5,"s":207,"e":207,"c":"Y"},{"r":5,"s":208,"e":217,"c":"G"},{"r":5,"s":218,"e":218,"c":"Y"},{"r":5,"s":219,"e":222,"c":"G"},{"r":5,"s":223,"e":223,"c":"Y"},{"r":5,"s":224,"e":230,"c":"G"},{"r":5,"s":231,"e":231,"c":"Y"},{"r":5,"s":232,"e":240,"c":"G"},{"r":5,"s":241,"e":241,"c":"Y"},{"r":5,"s":242,"e":242,"c":"G"},{"r":5,"s":243,"e":243,"c":"Y"},{"r":5,"s":244,"e":254,"c":"G"},{"r":5,"s":255,"e":255,"c":"Y"},{"r":5,"s":256,"e":265,"c":"G"},{"r":5,"s":266,"e":266,"c":"Y"},{"r":5,"s":267,"e":271,"c":"G"},{"r":5,"s":272,"e":272,"c":"Y"},{"r":5,"s":273,"e":275,"c":"G"},{"r":5,"s":276,"e":276,"c":"Y"},{"r":5,"s":277,"e":283,"c":"G"},{"r":5,"s":284,"e":284,"c":"Y"},{"r":5,"s":285,"e":287,"c":"G"},{"r":5,"s":288,"e":288,"c":"Y"},{"r":5,"s":289,"e":291,"c":"G"},{"r":5,"s":292,"e":292,"c":"B"},{"r":5,"s":293,"e":293,"c":"R"},
{"r":4,"s":74,"e":74,"c":"R"},{"r":4,"s":75,"e":103,"c":"G"},{"r":4,"s":104,"e":104,"c":"Y"},{"r":4,"s":105,"e":105,"c":"G"},{"r":4,"s":106,"e":106,"c":"Y"},{"r":4,"s":107,"e":116,"c":"G"},{"r":4,"s":117,"e":117,"c":"Y"},{"r":4,"s":118,"e":130,"c":"G"},{"r":4,"s":131,"e":131,"c":"Y"},{"r":4,"s":132,"e":132,"c":"G"},{"r":4,"s":133,"e":133,"c":"Y"},{"r":4,"s":134,"e":142,"c":"G"},{"r":4,"s":143,"e":143,"c":"Y"},{"r":4,"s":144,"e":149,"c":"G"},{"r":4,"s":150,"e":150,"c":"Y"},{"r":4,"s":151,"e":151,"c":"G"},{"r":4,"s":152,"e":152,"c":"Y"},{"r":4,"s":153,"e":155,"c":"G"},{"r":4,"s":156,"e":156,"c":"Y"},{"r":4,"s":157,"e":157,"c":"G"},{"r":4,"s":158,"e":158,"c":"Y"},{"r":4,"s":159,"e":160,"c":"G"},{"r":4,"s":161,"e":161,"c":"Y"},{"r":4,"s":162,"e":164,"c":"G"},{"r":4,"s":165,"e":165,"c":"C"},{"r":4,"s":166,"e":167,"c":"Y"},{"r":4,"s":168,"e":170,"c":"G"},{"r":4,"s":171,"e":176,"c":"Y"},{"r":4,"s":177,"e":177,"c":"G"},{"r":4,"s":178,"e":178,"c":"Y"},{"r":4,"s":179,"e":180,"c":"G"},{"r":4,"s":181,"e":181,"c":"Y"},{"r":4,"s":182,"e":183,"c":"G"},{"r":4,"s":184,"e":184,"c":"Y"},{"r":4,"s":185,"e":187,"c":"G"},{"r":4,"s":188,"e":188,"c":"Y"},{"r":4,"s":189,"e":191,"c":"G"},{"r":4,"s":192,"e":192,"c":"Y"},{"r":4,"s":193,"e":198,"c":"G"},{"r":4,"s":199,"e":200,"c":"Y"},{"r":4,"s":201,"e":201,"c":"G"},{"r":4,"s":202,"e":202,"c":"Y"},{"r":4,"s":203,"e":206,"c":"G"},{"r":4,"s":207,"e":207,"c":"Y"},{"r":4,"s":208,"e":234,"c":"G"},{"r":4,"s":235,"e":235,"c":"Y"},{"r":4,"s":236,"e":236,"c":"R"},
{"r":3,"s":75,"e":75,"c":"M"},{"r":3,"s":76,"e":77,"c":"G"},{"r":3,"s":78,"e":78,"c":"R"},{"r":3,"s":79,"e":79,"c":"Y"},{"r":3,"s":80,"e":80,"c":"C"},{"r":3,"s":81,"e":81,"c":"Y"},{"r":3,"s":82,"e":82,"c":"B"},{"r":3,"s":83,"e":83,"c":"C"},{"r":3,"s":84,"e":84,"c":"B"},{"r":3,"s":85,"e":85,"c":"Y"},{"r":3,"s":86,"e":86,"c":"M"},{"r":3,"s":87,"e":87,"c":"Y"},{"r":3,"s":88,"e":88,"c":"C"},{"r":3,"s":89,"e":91,"c":"Y"},{"r":3,"s":92,"e":92,"c":"B"},{"r":3,"s":93,"e":93,"c":"C"},{"r":3,"s":94,"e":94,"c":"M"},{"r":3,"s":95,"e":98,"c":"C"},{"r":3,"s":99,"e":100,"c":"Y"},{"r":3,"s":101,"e":101,"c":"G"},{"r":3,"s":102,"e":102,"c":"Y"},{"r":3,"s":103,"e":103,"c":"C"},{"r":3,"s":104,"e":104,"c":"M"},{"r":3,"s":105,"e":105,"c":"C"},{"r":3,"s":106,"e":108,"c":"Y"},{"r":3,"s":109,"e":111,"c":"C"},{"r":3,"s":112,"e":114,"c":"Y"},{"r":3,"s":115,"e":116,"c":"G"},{"r":3,"s":117,"e":117,"c":"B"},{"r":3,"s":118,"e":118,"c":"G"},{"r":3,"s":119,"e":119,"c":"B"},{"r":3,"s":120,"e":132,"c":"R"},
{"r":2,"s":75,"e":75,"c":"M"},{"r":2,"s":76,"e":79,"c":"G"},{"r":2,"s":80,"e":80,"c":"Y"},{"r":2,"s":81,"e":90,"c":"G"},{"r":2,"s":91,"e":91,"c":"Y"},{"r":2,"s":92,"e":101,"c":"G"},{"r":2,"s":102,"e":102,"c":"Y"},{"r":2,"s":103,"e":112,"c":"G"},{"r":2,"s":113,"e":113,"c":"Y"},{"r":2,"s":114,"e":122,"c":"G"},{"r":2,"s":123,"e":123,"c":"Y"},{"r":2,"s":124,"e":126,"c":"G"},{"r":2,"s":127,"e":127,"c":"B"},{"r":2,"s":128,"e":128,"c":"Y"},{"r":2,"s":129,"e":129,"c":"G"},{"r":2,"s":130,"e":130,"c":"Y"},{"r":2,"s":131,"e":132,"c":"G"},{"r":2,"s":133,"e":134,"c":"C"},{"r":2,"s":135,"e":135,"c":"Y"},{"r":2,"s":136,"e":139,"c":"G"},{"r":2,"s":140,"e":140,"c":"Y"},{"r":2,"s":141,"e":145,"c":"G"},{"r":2,"s":146,"e":149,"c":"B"},{"r":2,"s":150,"e":150,"c":"Y"},{"r":2,"s":151,"e":151,"c":"C"},{"r":2,"s":152,"e":152,"c":"Y"},{"r":2,"s":153,"e":156,"c":"B"},{"r":2,"s":157,"e":157,"c":"G"},{"r":2,"s":158,"e":158,"c":"Y"},{"r":2,"s":159,"e":160,"c":"B"},{"r":2,"s":161,"e":161,"c":"G"},{"r":2,"s":162,"e":164,"c":"Y"},{"r":2,"s":165,"e":165,"c":"B"},{"r":2,"s":166,"e":166,"c":"G"},{"r":2,"s":167,"e":168,"c":"B"},{"r":2,"s":169,"e":170,"c":"Y"},{"r":2,"s":171,"e":172,"c":"G"},{"r":2,"s":173,"e":173,"c":"C"},{"r":2,"s":174,"e":175,"c":"Y"},{"r":2,"s":176,"e":176,"c":"C"},{"r":2,"s":177,"e":180,"c":"G"},{"r":2,"s":181,"e":181,"c":"Y"},{"r":2,"s":182,"e":184,"c":"G"},{"r":2,"s":185,"e":187,"c":"Y"},{"r":2,"s":188,"e":188,"c":"B"},{"r":2,"s":189,"e":189,"c":"C"},{"r":2,"s":190,"e":191,"c":"G"},{"r":2,"s":192,"e":198,"c":"R"},{"r":2,"s":199,"e":199,"c":"M"},{"r":2,"s":200,"e":200,"c":"C"},{"r":2,"s":201,"e":202,"c":"B"},{"r":2,"s":203,"e":204,"c":"C"},{"r":2,"s":205,"e":205,"c":"B"},{"r":2,"s":206,"e":207,"c":"C"},{"r":2,"s":208,"e":209,"c":"B"},{"r":2,"s":210,"e":210,"c":"C"},{"r":2,"s":211,"e":213,"c":"B"},{"r":2,"s":214,"e":214,"c":"C"},{"r":2,"s":215,"e":215,"c":"B"},{"r":2,"s":216,"e":218,"c":"C"},{"r":2,"s":219,"e":220,"c":"B"},{"r":2,"s":221,"e":222,"c":"C"},{"r":2,"s":223,"e":223,"c":"B"},{"r":2,"s":224,"e":224,"c":"C"},{"r":2,"s":225,"e":225,"c":"B"},{"r":2,"s":226,"e":229,"c":"C"},{"r":2,"s":230,"e":231,"c":"B"},{"r":2,"s":232,"e":232,"c":"C"},{"r":2,"s":233,"e":234,"c":"B"},{"r":2,"s":235,"e":235,"c":"C"},{"r":2,"s":236,"e":236,"c":"B"},{"r":2,"s":237,"e":239,"c":"C"},{"r":2,"s":240,"e":242,"c":"B"},{"r":2,"s":243,"e":243,"c":"C"},{"r":2,"s":244,"e":244,"c":"B"},{"r":2,"s":245,"e":247,"c":"C"},{"r":2,"s":248,"e":250,"c":"B"},{"r":2,"s":251,"e":251,"c":"R"},
{"r":1,"s":74,"e":74,"c":"R"},{"r":1,"s":75,"e":80,"c":"G"},{"r":1,"s":81,"e":81,"c":"Y"},{"r":1,"s":82,"e":83,"c":"G"},{"r":1,"s":84,"e":84,"c":"Y"},{"r":1,"s":85,"e":94,"c":"G"},{"r":1,"s":95,"e":95,"c":"Y"},{"r":1,"s":96,"e":101,"c":"G"},{"r":1,"s":102,"e":102,"c":"Y"},{"r":1,"s":103,"e":105,"c":"G"},{"r":1,"s":106,"e":106,"c":"Y"},{"r":1,"s":107,"e":115,"c":"G"},{"r":1,"s":116,"e":116,"c":"Y"},{"r":1,"s":117,"e":121,"c":"G"},{"r":1,"s":122,"e":125,"c":"Y"},{"r":1,"s":126,"e":132,"c":"G"},{"r":1,"s":133,"e":134,"c":"Y"},{"r":1,"s":135,"e":138,"c":"G"},{"r":1,"s":139,"e":139,"c":"Y"},{"r":1,"s":140,"e":140,"c":"G"},{"r":1,"s":141,"e":141,"c":"Y"},{"r":1,"s":142,"e":144,"c":"G"},{"r":1,"s":145,"e":145,"c":"Y"},{"r":1,"s":146,"e":146,"c":"G"},{"r":1,"s":147,"e":147,"c":"Y"},{"r":1,"s":148,"e":149,"c":"G"},{"r":1,"s":150,"e":150,"c":"Y"},{"r":1,"s":151,"e":151,"c":"G"},{"r":1,"s":152,"e":152,"c":"Y"},{"r":1,"s":153,"e":153,"c":"G"},{"r":1,"s":154,"e":154,"c":"Y"},{"r":1,"s":155,"e":155,"c":"G"},{"r":1,"s":156,"e":157,"c":"Y"},{"r":1,"s":158,"e":160,"c":"G"},{"r":1,"s":161,"e":162,"c":"Y"},{"r":1,"s":163,"e":164,"c":"G"},{"r":1,"s":165,"e":165,"c":"C"},{"r":1,"s":166,"e":168,"c":"Y"},{"r":1,"s":169,"e":172,"c":"G"},{"r":1,"s":173,"e":177,"c":"Y"},{"r":1,"s":178,"e":178,"c":"G"},{"r":1,"s":179,"e":182,"c":"Y"},{"r":1,"s":183,"e":184,"c":"G"},{"r":1,"s":185,"e":185,"c":"Y"},{"r":1,"s":186,"e":187,"c":"G"},{"r":1,"s":188,"e":194,"c":"Y"},{"r":1,"s":195,"e":195,"c":"G"},{"r":1,"s":196,"e":207,"c":"Y"},{"r":1,"s":208,"e":210,"c":"G"},{"r":1,"s":211,"e":211,"c":"Y"},{"r":1,"s":212,"e":213,"c":"G"},{"r":1,"s":214,"e":216,"c":"Y"},{"r":1,"s":217,"e":231,"c":"G"},{"r":1,"s":232,"e":236,"c":"Y"},{"r":1,"s":237,"e":238,"c":"B"},{"r":1,"s":239,"e":240,"c":"G"},{"r":1,"s":241,"e":241,"c":"Y"},{"r":1,"s":242,"e":242,"c":"G"},{"r":1,"s":243,"e":243,"c":"Y"},{"r":1,"s":244,"e":244,"c":"G"},{"r":1,"s":245,"e":245,"c":"Y"},{"r":1,"s":246,"e":246,"c":"G"},{"r":1,"s":247,"e":247,"c":"Y"},{"r":1,"s":248,"e":248,"c":"G"},{"r":1,"s":249,"e":249,"c":"M"},{"r":1,"s":250,"e":250,"c":"R"}
],
"labels":[{"r":20,"id":"205","e":211},{"r":19,"id":"217","e":299},{"r":18,"id":"204","e":288},{"r":17,"id":"220","e":300},{"r":16,"id":"209","e":277},{"r":15,"id":"218","e":191},{"r":14,"id":"202","e":299},{"r":13,"id":"213","e":302},{"r":12,"id":"206","e":299},{"r":10,"id":"201","e":306},{"r":9,"id":"215","e":302},{"r":8,"id":"214","e":295},{"r":7,"id":"212","e":310},{"r":6,"id":"211","e":305},{"r":5,"id":"207","e":293},{"r":4,"id":"216","e":236},{"r":3,"id":"203","e":132},{"r":2,"id":"219","e":251},{"r":1,"id":"210","e":250}]},
"resolve":{"axis":{"x":"independent","y":"independent"}},
"layer":[
{"data":{"name":"runs"},"mark":{"type":"rule","strokeWidth":10,"strokeCap":"round"},
"encoding":{
"x":{"field":"s","type":"quantitative","scale":{"domain":[70,310],"nice":false,"zero":false},"axis":{"orient":"bottom","values":[70,80,90,100,110,120,130,140,150,160,170,180,190,200,210,220,230,240,250,260,270,280,290,300,310],"labelFlush":false,"grid":false,"tickSize":-10,"tickColor":"#8a8a8a","domainColor":"#8a8a8a","labelFontSize":12,"labelColor":"#262626","labelPadding":16,"labelFont":"Liberation Sans","title":"Day of 2014","titleFontSize":13,"titleFontWeight":"normal","titleColor":"#262626","titleFont":"Liberation Sans","titlePadding":7}},
"x2":{"field":"e"},
"y":{"field":"r","type":"quantitative","scale":{"domain":[0,21],"nice":false,"zero":false},"axis":{"orient":"left","values":[1,2,3,4,5,6,7,8,9,10,11,12,13,14,15,16,17,18,19,20],"labelExpr":"'' + ceil(datum.value/5)","labelFlush":false,"grid":false,"tickSize":-10,"tickColor":"#8a8a8a","domainColor":"#8a8a8a","labelFontSize":12,"labelColor":"#262626","labelPadding":16,"labelFont":"Liberation Sans","title":"Cluster","titleFontSize":13,"titleFontWeight":"normal","titleColor":"#262626","titleFont":"Liberation Sans","titlePadding":8}},
"color":{"field":"c","type":"nominal","scale":{"domain":["G","Y","C","B","R","M"],"range":["#00ff00","#ffff00","#00ffff","#0000ff","#ff0000","#ff00ff"]},"legend":null}}},
{"data":{"name":"labels"},"mark":{"type":"text","align":"left","baseline":"middle","dx":11,"fontSize":12.5,"font":"Liberation Sans","color":"#262626"},
"encoding":{
"x":{"field":"e","type":"quantitative","axis":{"orient":"top","values":[70,80,90,100,110,120,130,140,150,160,170,180,190,200,210,220,230,240,250,260,270,280,290,300,310],"labels":false,"title":null,"grid":false,"tickSize":-10,"tickColor":"#8a8a8a","domainColor":"#8a8a8a"}},
"y":{"field":"r","type":"quantitative","axis":{"orient":"right","values":[1,2,3,4,5,6,7,8,9,10,11,12,13,14,15,16,17,18,19,20],"labels":false,"title":null,"grid":false,"tickSize":-10,"tickColor":"#8a8a8a","domainColor":"#8a8a8a"}},
"text":{"field":"id"}}}
]}
